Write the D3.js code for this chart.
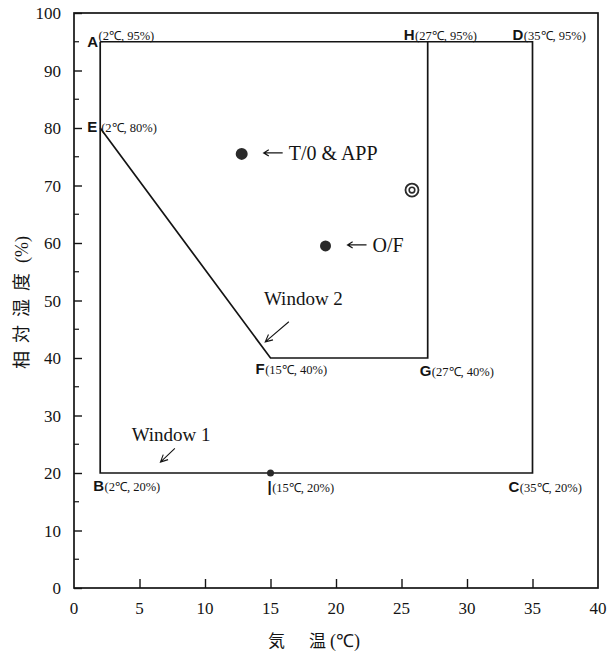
<!DOCTYPE html>
<html>
<head>
<meta charset="utf-8">
<script src="https://cdn.jsdelivr.net/npm/d3@7"></script>
<style>
  html, body { margin: 0; padding: 0; background: #fff; }
</style>
</head>
<body>
<script>
// Comfort windows on a temperature / relative humidity chart.

const xTicks = [0, 5, 10, 15, 20, 25, 30, 35, 40];
const yTicks = [0, 10, 20, 30, 40, 50, 60, 70, 80, 90, 100];
const yMinorTicks = [5, 15, 25, 35, 45, 55, 65, 75, 85, 95];

// Window 1: A -> D -> C -> B (closed)
const window1 = [[2, 95], [35, 95], [35, 20], [2, 20], [2, 95]];
// Window 2: E -> F -> G -> H (top shares the A-D edge)
const window2 = [[2, 80], [15, 40], [27, 40], [27, 95]];

// Corner labels: letter, coordinate text, data point
const cornerNames = ["A", "H", "D", "E", "F", "G", "B", "I", "C"];
const cornerText = ["(2℃, 95%)", "(27℃, 95%)", "(35℃, 95%)", "(2℃, 80%)",
  "(15℃, 40%)", "(27℃, 40%)", "(2℃, 20%)", "(15℃, 20%)", "(35℃, 20%)"];
const cornerX = [2, 27, 35, 2, 15, 27, 2, 15, 35];
const cornerY = [95, 95, 95, 80, 40, 40, 20, 20, 20];

// Observed points
const pointNames = ["T/0 & APP", "O/F", "target", "I"];
const pointX = [12.8, 19.2, 25.8, 15];
const pointY = [75.5, 59.5, 69.2, 20];

// Window annotations
const windowNames = ["Window 2", "Window 1"];
const windowTextX = [14.5, 4.4];
const windowTextY = [49.2, 25.6];
const arrowFrom = [[16.4, 46.3], [7.7, 24.3]];
const arrowTo = [[14.6, 42.8], [6.6, 21.9]];

const W = 609, H = 658;
const margin = { top: 13, right: 11, bottom: 70, left: 74 };
const serif = "Liberation Serif";
const sans = "Liberation Sans";
const cjk = "Noto Sans CJK JP";
const ink = "#141414";

const svg = d3.select("body").append("svg")
  .attr("width", W).attr("height", H);

const x = d3.scaleLinear().domain([0, 40]).range([margin.left, W - margin.right]);
const y = d3.scaleLinear().domain([0, 100]).range([H - margin.bottom, margin.top]);

function arrowPath(x1, y1, x2, y2, hl, spread) {
  const ang = Math.atan2(y2 - y1, x2 - x1);
  return `M${x1},${y1}L${x2},${y2}` +
    `M${x2 - hl * Math.cos(ang - spread)},${y2 - hl * Math.sin(ang - spread)}L${x2},${y2}` +
    `L${x2 - hl * Math.cos(ang + spread)},${y2 - hl * Math.sin(ang + spread)}`;
}

// Frame
svg.append("rect")
  .attr("x", x(0)).attr("y", y(100))
  .attr("width", x(40) - x(0)).attr("height", y(0) - y(100))
  .attr("fill", "none").attr("stroke", ink).attr("stroke-width", 1.7);

// Y axis, ticks pointing inward
const yAxis = svg.append("g")
  .attr("transform", `translate(${x(0)},0)`)
  .call(d3.axisRight(y).tickValues(yTicks).tickSize(8).tickFormat(""));
yAxis.select(".domain").remove();
yAxis.selectAll("line").attr("stroke", ink).attr("stroke-width", 1.4);

svg.append("g").selectAll("line")
  .data(yMinorTicks)
  .join("line")
  .attr("x1", x(0)).attr("x2", x(0) + 5)
  .attr("y1", d => y(d)).attr("y2", d => y(d))
  .attr("stroke", ink).attr("stroke-width", 1.2);

svg.append("g").selectAll("text")
  .data(yTicks)
  .join("text")
  .attr("x", x(0) - 13)
  .attr("y", d => y(d) + 6)
  .attr("text-anchor", "end")
  .style("font-family", serif)
  .style("font-size", "17px")
  .attr("fill", ink)
  .text(d => d);

// X axis, ticks pointing inward
const xAxis = svg.append("g")
  .attr("transform", `translate(0,${y(0)})`)
  .call(d3.axisTop(x).tickValues(xTicks.slice(1, -1)).tickSize(9).tickFormat(""));
xAxis.select(".domain").remove();
xAxis.selectAll("line").attr("stroke", ink).attr("stroke-width", 1.4);

svg.append("g").selectAll("text")
  .data(xTicks)
  .join("text")
  .attr("x", d => x(d))
  .attr("y", y(0) + 26)
  .attr("text-anchor", "middle")
  .style("font-family", serif)
  .style("font-size", "17px")
  .attr("fill", ink)
  .text(d => d);

// Axis titles
const xt = svg.append("text")
  .attr("x", 268).attr("y", 647)
  .style("font-family", cjk)
  .style("font-size", "17px")
  .attr("fill", ink);
xt.append("tspan").text("気");
xt.append("tspan").attr("dx", 24).text("温");
xt.append("tspan").attr("dx", 4).style("font-family", serif).style("font-size", "18px").text("(℃)");

const yt = svg.append("text")
  .attr("transform", `translate(28,${(y(0) + y(100)) / 2 + 2}) rotate(-90)`)
  .attr("text-anchor", "middle")
  .style("font-family", cjk)
  .style("font-size", "18px")
  .attr("fill", ink);
yt.append("tspan").style("letter-spacing", "8px").text("相対湿度");
yt.append("tspan").attr("dx", 2).style("font-family", serif).style("font-size", "18px").text("(%)");

// Windows
const line = d3.line().x(d => x(d[0])).y(d => y(d[1]));
svg.append("path").attr("d", line(window1))
  .attr("fill", "none").attr("stroke", ink).attr("stroke-width", 1.7);
svg.append("path").attr("d", line(window2))
  .attr("fill", "none").attr("stroke", ink).attr("stroke-width", 1.7);

// Corner labels: offsets of the letter start and baseline from the point
const letterDx = [-13, -24, -20, -13, -15, -8, -7, -3, -24];
const letterDy = [5, -2, -2, 4, 16, 18, 18, 19, 19];
const supDy = [-7, 0, 0, 0, 0, 0, 0, 0, 0];
cornerNames.forEach((name, i) => {
  const px = x(cornerX[i]), py = y(cornerY[i]);
  const t = svg.append("text")
    .attr("x", px + letterDx[i])
    .attr("y", py + letterDy[i])
    .attr("fill", ink);
  t.append("tspan")
    .style("font-family", sans)
    .style("font-size", "15px")
    .attr("font-weight", "bold")
    .text(name === "I" ? "|" : name);
  t.append("tspan")
    .style("font-family", serif)
    .style("font-size", "12.5px")
    .attr("dx", name === "E" ? 4 : 0.5)
    .attr("dy", supDy[i])
    .text(cornerText[i]);
});

// Points
svg.append("circle").attr("cx", x(pointX[0])).attr("cy", y(pointY[0])).attr("r", 6).attr("fill", "#2a2a2a");
svg.append("circle").attr("cx", x(pointX[1])).attr("cy", y(pointY[1])).attr("r", 5.5).attr("fill", "#2a2a2a");
svg.append("circle").attr("cx", x(pointX[2])).attr("cy", y(pointY[2])).attr("r", 6.5)
  .attr("fill", "none").attr("stroke", "#2a2a2a").attr("stroke-width", 1.8);
svg.append("circle").attr("cx", x(pointX[2])).attr("cy", y(pointY[2])).attr("r", 2.8)
  .attr("fill", "none").attr("stroke", "#2a2a2a").attr("stroke-width", 1.6);
svg.append("circle").attr("cx", x(pointX[3])).attr("cy", y(pointY[3])).attr("r", 3.5).attr("fill", "#2a2a2a");

// Point labels with left-pointing arrows
[0, 1].forEach(i => {
  const px = x(pointX[i]), py = y(pointY[i]);
  const ax = px + 22;
  svg.append("path")
    .attr("d", arrowPath(ax + 19, py - 1, ax, py - 1, 6, 0.55))
    .attr("fill", "none").attr("stroke", ink).attr("stroke-width", 1.2);
  svg.append("text")
    .attr("x", ax + 25).attr("y", py + 6)
    .style("font-family", serif)
    .style("font-size", "20px")
    .attr("fill", ink)
    .text(pointNames[i]);
});

// Window labels and arrows
windowNames.forEach((name, i) => {
  svg.append("text")
    .attr("x", x(windowTextX[i])).attr("y", y(windowTextY[i]))
    .style("font-family", serif)
    .style("font-size", "19px")
    .attr("fill", ink)
    .text(name);
  svg.append("path")
    .attr("d", arrowPath(x(arrowFrom[i][0]), y(arrowFrom[i][1]), x(arrowTo[i][0]), y(arrowTo[i][1]), 8, 0.45))
    .attr("fill", "none").attr("stroke", ink).attr("stroke-width", 1.1);
});
</script>
</body>
</html>
